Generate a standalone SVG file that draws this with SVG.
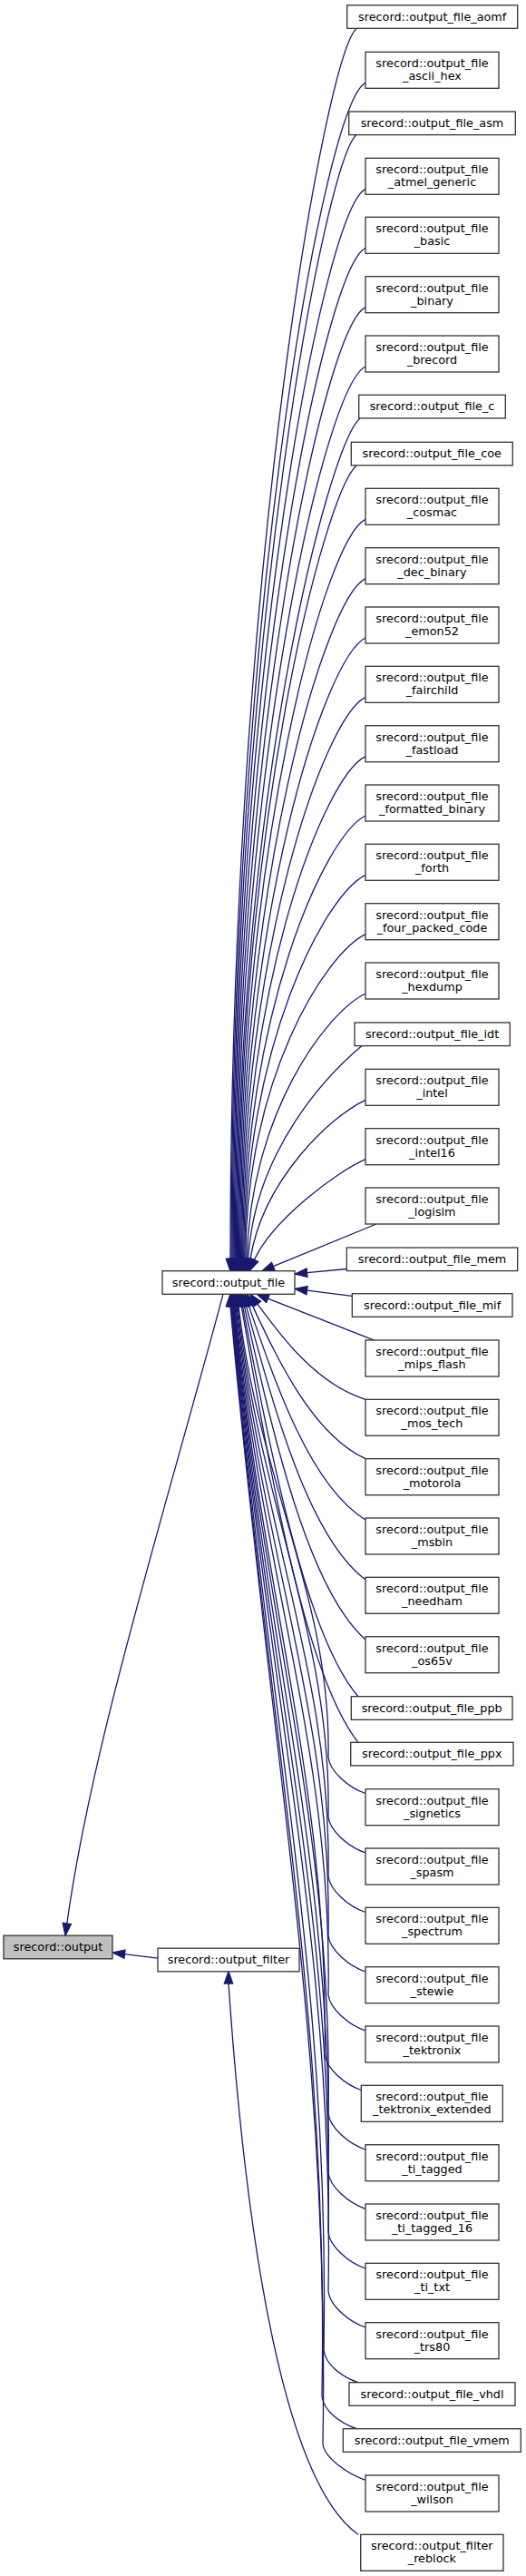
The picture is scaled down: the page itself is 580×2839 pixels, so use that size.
<svg xmlns="http://www.w3.org/2000/svg" width="580" height="2839" viewBox="0 0 580 2839">
<style>
.n rect{fill:#fff;stroke:#333;stroke-width:1.3}
.root rect{fill:#bfbfbf;stroke:#333;stroke-width:1.3}
text{font-family:"DejaVu Sans",sans-serif;font-size:12.8px;text-anchor:middle;fill:#000}
.e path{fill:none;stroke:#191970;stroke-width:1.3}
.e polygon{fill:#191970;stroke:#191970;stroke-width:1.3}
</style>
<rect width="580" height="2839" fill="#fff"/>
<g id="edges" class="e">
<path d="M393.3,31.3 C358.3,61.3 254,641.5 254,1387.4"/><polygon points="254,1400.7 249.33,1387.4 258.67,1387.4"/>
<path d="M403,91.3 C358,113.3 255.05,674.5 255.05,1387.4"/><polygon points="255.05,1400.7 250.38,1387.4 259.72,1387.4"/>
<path d="M393.3,148.3 C358.3,178.3 256.1,705.9 256.1,1387.4"/><polygon points="256.1,1400.7 251.43,1387.4 260.77,1387.4"/>
<path d="M403,208.3 C358,230.3 257.15,738.9 257.15,1387.4"/><polygon points="257.15,1400.7 252.48,1387.4 261.82,1387.4"/>
<path d="M403,273.3 C358,295.3 258.2,774.6 258.2,1387.4"/><polygon points="258.2,1400.7 253.53,1387.4 262.87,1387.4"/>
<path d="M403,338.7 C358,360.7 259.25,810.6 259.25,1387.4"/><polygon points="259.25,1400.7 254.58,1387.4 263.92,1387.4"/>
<path d="M403,404 C358,426 260.3,846.5 260.3,1387.4"/><polygon points="260.3,1400.7 255.63,1387.4 264.97,1387.4"/>
<path d="M397,461 C362,491 261.35,877.9 261.35,1387.4"/><polygon points="261.35,1400.7 256.68,1387.4 266.02,1387.4"/>
<path d="M393.3,512.7 C358.3,542.7 262.4,906.3 262.4,1387.4"/><polygon points="262.4,1400.7 257.73,1387.4 267.07,1387.4"/>
<path d="M403,572.3 C358,594.3 263.45,939.1 263.45,1387.4"/><polygon points="263.45,1400.7 258.78,1387.4 268.12,1387.4"/>
<path d="M403,637.7 C358,659.7 264.5,975.1 264.5,1387.4"/><polygon points="264.5,1400.7 259.83,1387.4 269.17,1387.4"/>
<path d="M403,703 C358,725 265.55,1011 265.55,1387.4"/><polygon points="265.55,1400.7 260.88,1387.4 270.22,1387.4"/>
<path d="M403,768.3 C358,790.3 266.6,1046.9 266.6,1387.4"/><polygon points="266.6,1400.7 261.93,1387.4 271.27,1387.4"/>
<path d="M403,833.7 C358,855.7 267.65,1082.9 267.65,1387.4"/><polygon points="267.65,1400.7 262.98,1387.4 272.32,1387.4"/>
<path d="M403,899 C358,921 268.7,1118.8 268.7,1387.4"/><polygon points="268.7,1400.7 264.03,1387.4 273.37,1387.4"/>
<path d="M403,964.3 C358,986.3 269.75,1154.7 269.75,1387.4"/><polygon points="269.75,1400.7 265.08,1387.4 274.42,1387.4"/>
<path d="M403,1029.7 C358,1051.7 270.8,1190.7 270.8,1387.4"/><polygon points="270.8,1400.7 266.13,1387.4 275.47,1387.4"/>
<path d="M403,1095 C358,1117 276,1230 272.17,1387.4"/><polygon points="271.85,1400.7 267.5,1387.3 276.84,1387.5"/>
<path d="M399.3,1152.3 C364,1182 281,1265 273.69,1387.42"/><polygon points="272.9,1400.7 269.03,1387.14 278.35,1387.7"/>
<path d="M403,1212.3 C365,1230 290,1300 276.04,1387.57"/><polygon points="273.95,1400.7 271.43,1386.84 280.65,1388.3"/>
<path d="M403,1277.7 C370,1292 300,1345 280.45,1388.57"/><polygon points="275,1400.7 276.19,1386.66 284.71,1390.48"/>
<path d="M415,1349 L301.3,1395.65"/><polygon points="289,1400.7 299.53,1391.33 303.07,1399.97"/>
<path d="M382.3,1398.5 L338.53,1402.72"/><polygon points="325.3,1404 338.08,1398.07 338.98,1407.37"/>
<path d="M388.3,1428.3 L338.5,1422.13"/><polygon points="325.3,1420.5 339.07,1417.5 337.93,1426.76"/>
<path d="M413.3,1477.3 L295.39,1431.15"/><polygon points="283,1426.3 297.09,1426.8 293.69,1435.5"/>
<path d="M283.86,1437.03 C310,1472.7 348.25,1524.9 403,1542.3"/><polygon points="276,1426.3 287.63,1434.27 280.09,1439.79"/>
<path d="M278.14,1438.35 C306.5,1498.9 344.75,1580.5 403,1607.7"/><polygon points="272.5,1426.3 282.37,1436.37 273.91,1440.33"/>
<path d="M274.3,1438.88 C304,1525.8 342.25,1637.7 403,1675"/><polygon points="270,1426.3 278.72,1437.37 269.88,1440.39"/>
<path d="M271.47,1439.14 C302,1552.2 340.25,1693.8 403,1741"/><polygon points="268,1426.3 275.98,1437.92 266.96,1440.36"/>
<path d="M269.4,1439.28 C300.5,1578.6 338.75,1749.9 403,1807"/><polygon points="266.5,1426.3 273.96,1438.26 264.84,1440.3"/>
<path d="M267.5,1439.36 C299,1603.7 337.25,1803.2 395,1869.7"/><polygon points="265,1426.3 272.09,1438.48 262.91,1440.24"/>
<path d="M266.26,1439.41 C298,1623.9 336.25,1846.2 395,1920.3"/><polygon points="264,1426.3 270.86,1438.62 261.66,1440.2"/>
<path d="M263,1439.6 C286.9,1638.4 365.2,1762.6 362,1936.5 C363.5,1952.5 385,1970.5 403,1976.5"/><polygon points="263,1426.3 258.33,1439.6 267.67,1439.6"/>
<path d="M262,1439.6 C287.7,1664.6 365.6,1805.2 362,2002 C363.5,2018 385,2036 403,2042"/><polygon points="262,1426.3 257.33,1439.6 266.67,1439.6"/>
<path d="M261,1439.6 C288.5,1690.8 366,1847.7 362,2067.5 C363.5,2083.5 385,2101.5 403,2107.5"/><polygon points="261,1426.3 256.33,1439.6 265.67,1439.6"/>
<path d="M260,1439.6 C289.4,1717 366.4,1890.3 362,2133 C363.5,2149 385,2167 403,2173"/><polygon points="260,1426.3 255.33,1439.6 264.67,1439.6"/>
<path d="M259,1439.6 C290.2,1743 366.8,1932.6 362,2198 C363.5,2214 385,2232 403,2238"/><polygon points="259,1426.3 254.33,1439.6 263.67,1439.6"/>
<path d="M258.3,1439.6 C291.3,1769.2 363.3,1975.1 358,2263.5 C359.5,2279.5 380.3,2297.5 398.3,2303.5"/><polygon points="258.3,1426.3 253.63,1439.6 262.97,1439.6"/>
<path d="M257.6,1439.6 C292.4,1795.4 367.7,2017.7 362,2329 C363.5,2345 385,2363 403,2369"/><polygon points="257.6,1426.3 252.93,1439.6 262.27,1439.6"/>
<path d="M257,1439.6 C293.6,1821.5 368.1,2060.2 362,2394.3 C363.5,2410.3 385,2428.3 403,2434.3"/><polygon points="257,1426.3 252.33,1439.6 261.67,1439.6"/>
<path d="M256.4,1439.6 C294.9,1847.8 368.5,2102.9 362,2460 C363.5,2476 385,2494 403,2500"/><polygon points="256.4,1426.3 251.73,1439.6 261.07,1439.6"/>
<path d="M255.8,1439.6 C296.1,1873.8 368.9,2145.1 362,2525 C363.5,2541 385,2559 403,2565"/><polygon points="255.8,1426.3 251.13,1439.6 260.47,1439.6"/>
<path d="M255.2,1439.6 C297.3,1899.6 364.3,2187.2 357,2589.7 C358.5,2605.7 377,2619.7 395,2625.7"/><polygon points="255.2,1426.3 250.53,1439.6 259.87,1439.6"/>
<path d="M254.6,1439.6 C298.1,1920 362.7,2220.3 355,2640.7 C356.5,2656.7 375.3,2670.7 393.3,2676.7"/><polygon points="254.6,1426.3 249.93,1439.6 259.27,1439.6"/>
<path d="M254,1439.6 C299,1941.1 364,2254.5 356,2693.3 C357.5,2709.3 385,2727.3 403,2733.3"/><polygon points="254,1426.3 249.33,1439.6 258.67,1439.6"/>
<path d="M246,1426.3 C181.5,1667.8 101.2,1922 73.8,2120"/><polygon points="72,2133.2 69.17,2119.36 78.43,2120.64"/>
<path d="M174,2158.2 L137.5,2153.6"/><polygon points="124.3,2152 138.06,2148.96 136.94,2158.24"/>
<path d="M252,2186.1 C268,2420 305,2730 395,2793.3"/><polygon points="252,2172.8 247.33,2186.1 256.67,2186.1"/>
</g>
<g id="output" class="root"><rect x="4" y="2133.2" width="120" height="25.6"/><text x="64" y="2150">srecord::output</text></g>
<g id="output_file" class="n"><rect x="179" y="1400.7" width="146" height="25.6"/><text x="252" y="1417.5">srecord::output_file</text></g>
<g id="output_filter" class="n"><rect x="174" y="2147.2" width="156" height="25.6"/><text x="252" y="2164">srecord::output_filter</text></g>
<g id="aomf" class="n"><rect x="382.7" y="5.7" width="188" height="25.6"/><text x="476.7" y="22.5">srecord::output_file_aomf</text></g>
<g id="ascii_hex" class="n"><rect x="403" y="57.3" width="147" height="40"/><text x="476.5" y="74.1">srecord::output_file</text><text x="476.5" y="88.2">_ascii_hex</text></g>
<g id="asm" class="n"><rect x="384.7" y="123" width="183.6" height="25.6"/><text x="476.5" y="139.8">srecord::output_file_asm</text></g>
<g id="atmel_generic" class="n"><rect x="403" y="174.3" width="147" height="40"/><text x="476.5" y="191.1">srecord::output_file</text><text x="476.5" y="205.2">_atmel_generic</text></g>
<g id="basic" class="n"><rect x="403" y="239.3" width="147" height="40"/><text x="476.5" y="256.1">srecord::output_file</text><text x="476.5" y="270.2">_basic</text></g>
<g id="binary" class="n"><rect x="403" y="304.7" width="147" height="40"/><text x="476.5" y="321.5">srecord::output_file</text><text x="476.5" y="335.6">_binary</text></g>
<g id="brecord" class="n"><rect x="403" y="370" width="147" height="40"/><text x="476.5" y="386.8">srecord::output_file</text><text x="476.5" y="400.9">_brecord</text></g>
<g id="c" class="n"><rect x="395.7" y="435.3" width="161.6" height="25.6"/><text x="476.5" y="452.1">srecord::output_file_c</text></g>
<g id="coe" class="n"><rect x="387.3" y="487.3" width="178" height="25.6"/><text x="476.3" y="504.1">srecord::output_file_coe</text></g>
<g id="cosmac" class="n"><rect x="403" y="538.3" width="147" height="40"/><text x="476.5" y="555.1">srecord::output_file</text><text x="476.5" y="569.2">_cosmac</text></g>
<g id="dec_binary" class="n"><rect x="403" y="603.7" width="147" height="40"/><text x="476.5" y="620.5">srecord::output_file</text><text x="476.5" y="634.6">_dec_binary</text></g>
<g id="emon52" class="n"><rect x="403" y="669" width="147" height="40"/><text x="476.5" y="685.8">srecord::output_file</text><text x="476.5" y="699.9">_emon52</text></g>
<g id="fairchild" class="n"><rect x="403" y="734.3" width="147" height="40"/><text x="476.5" y="751.1">srecord::output_file</text><text x="476.5" y="765.2">_fairchild</text></g>
<g id="fastload" class="n"><rect x="403" y="799.7" width="147" height="40"/><text x="476.5" y="816.5">srecord::output_file</text><text x="476.5" y="830.6">_fastload</text></g>
<g id="formatted_binary" class="n"><rect x="403" y="865" width="147" height="40"/><text x="476.5" y="881.8">srecord::output_file</text><text x="476.5" y="895.9">_formatted_binary</text></g>
<g id="forth" class="n"><rect x="403" y="930.3" width="147" height="40"/><text x="476.5" y="947.1">srecord::output_file</text><text x="476.5" y="961.2">_forth</text></g>
<g id="four_packed_code" class="n"><rect x="403" y="995.7" width="147" height="40"/><text x="476.5" y="1012.5">srecord::output_file</text><text x="476.5" y="1026.6">_four_packed_code</text></g>
<g id="hexdump" class="n"><rect x="403" y="1061" width="147" height="40"/><text x="476.5" y="1077.8">srecord::output_file</text><text x="476.5" y="1091.9">_hexdump</text></g>
<g id="idt" class="n"><rect x="391" y="1127" width="171.3" height="25.6"/><text x="476.6" y="1143.8">srecord::output_file_idt</text></g>
<g id="intel" class="n"><rect x="403" y="1178.3" width="147" height="40"/><text x="476.5" y="1195.1">srecord::output_file</text><text x="476.5" y="1209.2">_intel</text></g>
<g id="intel16" class="n"><rect x="403" y="1243.7" width="147" height="40"/><text x="476.5" y="1260.5">srecord::output_file</text><text x="476.5" y="1274.6">_intel16</text></g>
<g id="logisim" class="n"><rect x="403" y="1309" width="147" height="40"/><text x="476.5" y="1325.8">srecord::output_file</text><text x="476.5" y="1339.9">_logisim</text></g>
<g id="mem" class="n"><rect x="382.3" y="1375" width="188.4" height="25.6"/><text x="476.5" y="1391.8">srecord::output_file_mem</text></g>
<g id="mif" class="n"><rect x="388.3" y="1425.7" width="176.7" height="25.6"/><text x="476.6" y="1442.5">srecord::output_file_mif</text></g>
<g id="mips_flash" class="n"><rect x="403" y="1477" width="147" height="40"/><text x="476.5" y="1493.8">srecord::output_file</text><text x="476.5" y="1507.9">_mips_flash</text></g>
<g id="mos_tech" class="n"><rect x="403" y="1542.3" width="147" height="40"/><text x="476.5" y="1559.1">srecord::output_file</text><text x="476.5" y="1573.2">_mos_tech</text></g>
<g id="motorola" class="n"><rect x="403" y="1607.7" width="147" height="40"/><text x="476.5" y="1624.5">srecord::output_file</text><text x="476.5" y="1638.6">_motorola</text></g>
<g id="msbin" class="n"><rect x="403" y="1673" width="147" height="40"/><text x="476.5" y="1689.8">srecord::output_file</text><text x="476.5" y="1703.9">_msbin</text></g>
<g id="needham" class="n"><rect x="403" y="1738.3" width="147" height="40"/><text x="476.5" y="1755.1">srecord::output_file</text><text x="476.5" y="1769.2">_needham</text></g>
<g id="os65v" class="n"><rect x="403" y="1803.7" width="147" height="40"/><text x="476.5" y="1820.5">srecord::output_file</text><text x="476.5" y="1834.6">_os65v</text></g>
<g id="ppb" class="n"><rect x="387.3" y="1869.7" width="177.7" height="25.6"/><text x="476.2" y="1886.5">srecord::output_file_ppb</text></g>
<g id="ppx" class="n"><rect x="386.7" y="1920.3" width="179.3" height="25.6"/><text x="476.3" y="1937.1">srecord::output_file_ppx</text></g>
<g id="signetics" class="n"><rect x="403" y="1971.7" width="147" height="40"/><text x="476.5" y="1988.5">srecord::output_file</text><text x="476.5" y="2002.6">_signetics</text></g>
<g id="spasm" class="n"><rect x="403" y="2037" width="147" height="40"/><text x="476.5" y="2053.8">srecord::output_file</text><text x="476.5" y="2067.9">_spasm</text></g>
<g id="spectrum" class="n"><rect x="403" y="2102.3" width="147" height="40"/><text x="476.5" y="2119.1">srecord::output_file</text><text x="476.5" y="2133.2">_spectrum</text></g>
<g id="stewie" class="n"><rect x="403" y="2167.7" width="147" height="40"/><text x="476.5" y="2184.5">srecord::output_file</text><text x="476.5" y="2198.6">_stewie</text></g>
<g id="tektronix" class="n"><rect x="403" y="2233" width="147" height="40"/><text x="476.5" y="2249.8">srecord::output_file</text><text x="476.5" y="2263.9">_tektronix</text></g>
<g id="tektronix_extended" class="n"><rect x="398.3" y="2298.3" width="156" height="40"/><text x="476.3" y="2315.1">srecord::output_file</text><text x="476.3" y="2329.2">_tektronix_extended</text></g>
<g id="ti_tagged" class="n"><rect x="403" y="2363.7" width="147" height="40"/><text x="476.5" y="2380.5">srecord::output_file</text><text x="476.5" y="2394.6">_ti_tagged</text></g>
<g id="ti_tagged_16" class="n"><rect x="403" y="2429" width="147" height="40"/><text x="476.5" y="2445.8">srecord::output_file</text><text x="476.5" y="2459.9">_ti_tagged_16</text></g>
<g id="ti_txt" class="n"><rect x="403" y="2494.3" width="147" height="40"/><text x="476.5" y="2511.1">srecord::output_file</text><text x="476.5" y="2525.2">_ti_txt</text></g>
<g id="trs80" class="n"><rect x="403" y="2559.7" width="147" height="40"/><text x="476.5" y="2576.5">srecord::output_file</text><text x="476.5" y="2590.6">_trs80</text></g>
<g id="vhdl" class="n"><rect x="385" y="2625.7" width="183" height="25.6"/><text x="476.5" y="2642.5">srecord::output_file_vhdl</text></g>
<g id="vmem" class="n"><rect x="378.3" y="2676.7" width="196" height="25.6"/><text x="476.3" y="2693.5">srecord::output_file_vmem</text></g>
<g id="wilson" class="n"><rect x="403" y="2728" width="147" height="40"/><text x="476.5" y="2744.8">srecord::output_file</text><text x="476.5" y="2758.9">_wilson</text></g>
<g id="reblock" class="n"><rect x="397.7" y="2793.3" width="157.3" height="40"/><text x="476.35" y="2810.1">srecord::output_filter</text><text x="476.35" y="2824.2">_reblock</text></g>
</svg>
